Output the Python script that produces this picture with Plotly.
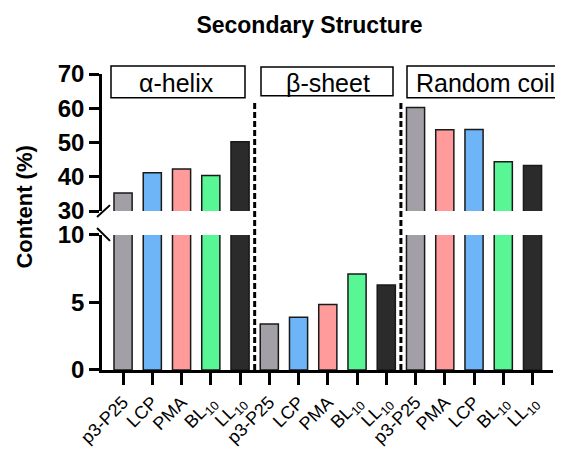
import plotly.graph_objects as go

title = "Secondary Structure"
groups = ["α-helix", "β-sheet", "Random coil"]
labels_helix = ["p3-P25", "LCP", "PMA", "BL<sub>10</sub>", "LL<sub>10</sub>"]
labels_sheet = ["p3-P25", "LCP", "PMA", "BL<sub>10</sub>", "LL<sub>10</sub>"]
labels_coil = ["p3-P25", "PMA", "LCP", "BL<sub>10</sub>", "LL<sub>10</sub>"]
values_helix = [35.3, 41.2, 42.3, 40.4, 50.2]
values_sheet = [3.4, 3.9, 4.85, 7.1, 6.3]
values_coil = [60.2, 53.7, 53.8, 44.4, 43.3]
colors_helix = ["#A39FA6", "#6DB5F6", "#FF9B9B", "#58F694", "#2B2B2B"]
colors_sheet = ["#A39FA6", "#6DB5F6", "#FF9B9B", "#58F694", "#2B2B2B"]
colors_coil = ["#A39FA6", "#FF9B9B", "#6DB5F6", "#58F694", "#2B2B2B"]

labels = labels_helix + labels_sheet + labels_coil
values = values_helix + values_sheet + values_coil
colors = colors_helix + colors_sheet + colors_coil
xs = list(range(len(values)))

FONT = "Liberation Sans, Arial, sans-serif"

fig = go.Figure()
bar_style = dict(marker=dict(color=colors, line=dict(color="#1a1a1a", width=1.5)), width=0.62,
                 showlegend=False, hoverinfo="skip")
fig.add_trace(go.Bar(x=xs, y=values, xaxis="x", yaxis="y", **bar_style))
fig.add_trace(go.Bar(x=xs, y=values, xaxis="x", yaxis="y2", **bar_style))

axis_common = dict(showline=True, linecolor="black", linewidth=2.5, ticks="outside",
                   tickwidth=2.5, tickcolor="black", showgrid=False, zeroline=False)

fig.update_layout(
    width=563, height=452,
    margin=dict(l=94, r=18, t=66, b=88),
    plot_bgcolor="white", paper_bgcolor="white",
    title=dict(text="<b>" + title + "</b>", x=301.5 / 563, xref="container", xanchor="center",
               y=1 - 16.5 / 452, yref="container", yanchor="middle",
               font=dict(family=FONT, size=23, color="black")),
    xaxis=dict(range=[-0.72, 14.7], tickvals=xs, ticktext=labels, tickangle=-45, ticklen=12,
               tickfont=dict(family=FONT, size=18, color="black"), anchor="y", **axis_common),
    yaxis=dict(domain=[0, 0.4564], range=[0, 10], tickvals=[0, 5, 10], ticklen=10,
               tickfont=dict(family=FONT, size=24, color="black", weight="bold"), anchor="x", **axis_common),
    yaxis2=dict(domain=[0.537, 1], range=[30, 70], tickvals=[30, 40, 50, 60, 70], ticklen=10,
                tickfont=dict(family=FONT, size=24, color="black", weight="bold"), anchor="x", **axis_common),
)

def px_x(p):
    return (p - 102) / 451

def px_y(p):
    return (372 - p) / 298

# dashed separators
for xv in [4.5, 9.5]:
    fig.add_shape(type="line", xref="x", yref="paper", x0=xv, x1=xv, y0=0, y1=px_y(103),
                  line=dict(color="black", width=3, dash="6px,3px"))

# group label boxes
boxes = [(111, 245, 66, 98), (261, 393, 67, 96), (407, 620, 66, 98)]
for (x0, x1, y0, y1), g in zip(boxes, groups):
    fig.add_shape(type="rect", xref="paper", yref="paper", x0=px_x(x0), x1=px_x(x1),
                  y0=px_y(y1), y1=px_y(y0), line=dict(color="black", width=1.5), fillcolor="white")
text_pos = [(176, "center"), (328, "center"), (414, "left")]
for (xp, anchor), g in zip(text_pos, groups):
    fig.add_annotation(text=g, xref="paper", yref="paper", x=px_x(xp), y=px_y(83),
                       xanchor=anchor, yanchor="middle", showarrow=False,
                       font=dict(family=FONT, size=25, color="black"))

# axis break marks
fig.add_shape(type="line", xref="paper", yref="paper", x0=px_x(97), y0=px_y(218), x1=px_x(110), y1=px_y(206),
              line=dict(color="black", width=2))
fig.add_shape(type="line", xref="paper", yref="paper", x0=px_x(97), y0=px_y(229), x1=px_x(110), y1=px_y(242),
              line=dict(color="black", width=2))

# y title
fig.add_annotation(text="<b>Content (%)</b>", xref="paper", yref="paper", x=px_x(25), y=px_y(208.5),
                   textangle=-90, showarrow=False, xanchor="center", yanchor="middle",
                   font=dict(family=FONT, size=22, color="black"))

fig.write_html("out.html")
